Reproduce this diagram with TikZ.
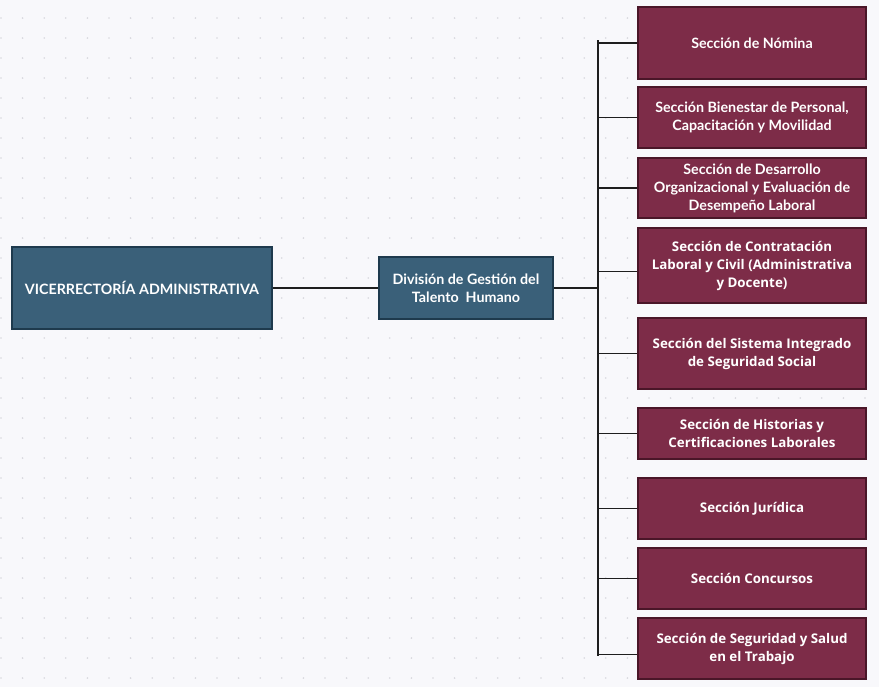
\documentclass[tikz,border=0pt]{standalone}
\usepackage{fontspec}
\setmainfont{Lato}
\newfontfamily\osans{Open Sans}
\definecolor{bg}{HTML}{F8F8FB}
\definecolor{dotc}{HTML}{D8D8DE}
\definecolor{blu}{HTML}{3A6079}
\definecolor{bluD}{HTML}{1E3A4D}
\definecolor{mar}{HTML}{7D2C48}
\definecolor{marD}{HTML}{4A1628}
\definecolor{ln}{HTML}{1E1E1E}
\begin{document}
\begin{tikzpicture}[x=0.75pt,y=-0.75pt,
  bluebox/.style={draw=bluD,line width=1.2pt,fill=blu,text=white,font=\bfseries\fontsize{10.7}{13.5}\selectfont,align=center,inner sep=2pt},
  marbox/.style={draw=marD,line width=1.2pt,fill=mar,text=white,font=\bfseries\fontsize{10.7}{13.5}\selectfont,align=center,inner sep=2pt,minimum width=171pt},
  osbox/.style={marbox,font=\osans\bfseries\fontsize{10}{13.5}\selectfont},
  conn/.style={draw=ln,line width=1.4pt}]
\fill[bg] (0,0) rectangle (879,687);
\useasboundingbox (0,0) rectangle (879,687);
\foreach \i in {0,...,40}{\foreach \j in {0,...,34}{
  \fill[dotc] (1+\i*21.6,18+\j*20) circle (0.9);}}
% left
\node[bluebox,minimum width=195pt,minimum height=61.5pt] (v) at (142,288) {VICERRECTORÍA ADMINISTRATIVA};
\node[bluebox,minimum width=130.5pt,minimum height=46.5pt] (d) at (466,288) {División de Gestión del\\Talento\ \ Humano};
% right
\node[marbox,minimum height=54pt] (r1) at (752,43) {Sección de Nómina};
\node[marbox,minimum height=45.75pt] (r2) at (752,117.5) {Sección Bienestar de Personal,\\Capacitación y Movilidad};
\node[marbox,minimum height=45pt] (r3) at (752,188) {Sección de Desarrollo\\Organizacional y Evaluación de\\Desempeño Laboral};
\node[osbox,minimum height=56.25pt] (r4) at (752,265.5) {Sección de Contratación\\Laboral y Civil (Administrativa\\y Docente)};
\node[osbox,minimum height=53.25pt] (r5) at (752,353.5) {Sección del Sistema Integrado\\de Seguridad Social};
\node[osbox,minimum height=38.25pt] (r6) at (752,433.5) {Sección de Historias y\\Certificaciones Laborales};
\node[osbox,minimum height=45.75pt] (r7) at (752,508.5) {Sección Jurídica};
\node[osbox,minimum height=45.75pt] (r8) at (752,578.5) {Sección Concursos};
\node[osbox,minimum height=45.75pt] (r9) at (752,648.5) {Sección de Seguridad y Salud\\en el Trabajo};
% connectors
\coordinate (bus) at (598,288);
\coordinate (c4) at ([yshift=-4.5pt]r4.west);
\coordinate (c9) at ([yshift=-4.5pt]r9.west);
\draw[conn] (v.east) -- (d.west);
\draw[conn] (d.east) -- (bus);
\draw[conn] ([yshift=2pt]bus |- r1.west) -- ([yshift=-1pt]bus |- c9);
\foreach \n in {r1,r2,r3,r5,r6,r7,r8}{\draw[conn] (bus |- \n.west) -- (\n.west);}
\draw[conn] (bus |- c4) -- (c4);
\draw[conn] (bus |- c9) -- (c9);
\end{tikzpicture}
\end{document}
